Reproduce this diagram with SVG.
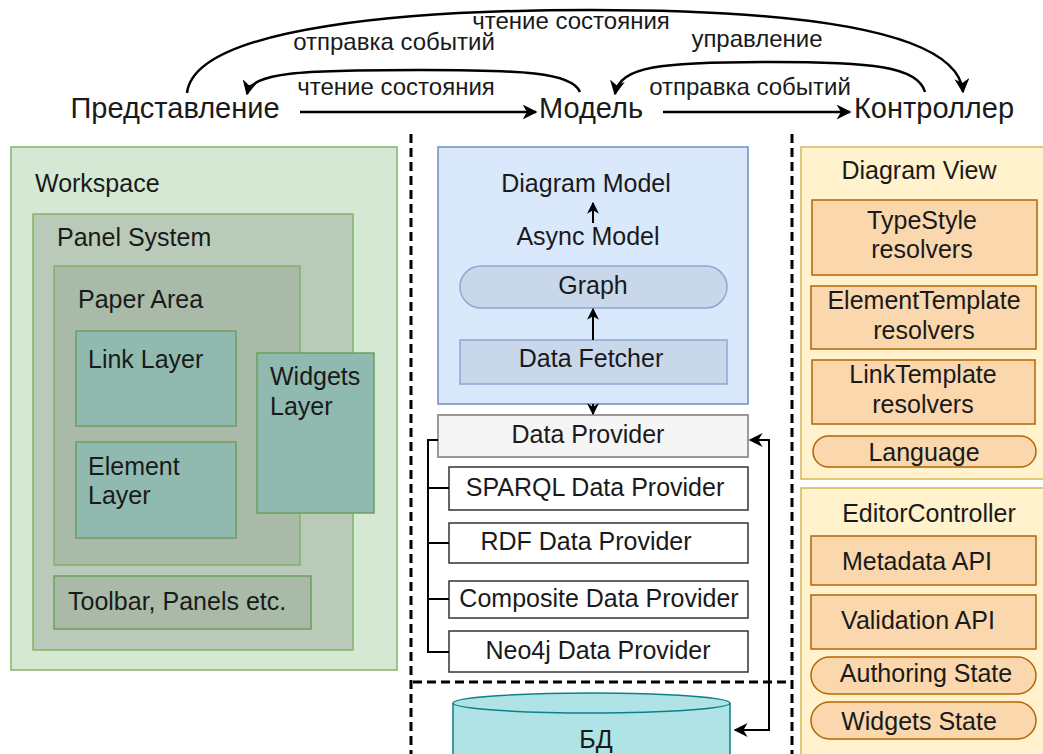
<svg xmlns="http://www.w3.org/2000/svg" width="1043" height="754" viewBox="0 0 1043 754">
<style>
text{font-family:"Liberation Sans",Arial,sans-serif;font-size:25px;fill:#1a1a1a}
.big{font-size:29px}
.lbl{font-size:24px}
.c{text-anchor:middle}
.ws{fill:#d5e8d4;stroke:#82b366;stroke-width:1.5}
.ps{fill:#b9cbb8;stroke:#82b366;stroke-width:1.5}
.pa{fill:#a9bba8;stroke:#82b366;stroke-width:1.5}
.ly{fill:#90bab0;stroke:#6d9e5e;stroke-width:1.5}
.blue{fill:#dae8fc;stroke:#6c8ebf;stroke-width:1.5}
.blue2{fill:#c9d7eb;stroke:#8ea8cf;stroke-width:1.5}
.gray{fill:#f5f5f5;stroke:#999;stroke-width:2}
.wh{fill:#fff;stroke:#333;stroke-width:1.5}
.yel{fill:#fff2cc;stroke:#d6b656;stroke-width:1.5}
.org{fill:#fad7ac;stroke:#b46504;stroke-width:1.5}
.dash{fill:none;stroke:#000;stroke-width:3;stroke-dasharray:9,5}
.ln{fill:none;stroke:#000;stroke-width:2.5}
.ln2{fill:none;stroke:#000;stroke-width:2}
</style>
<defs>
<marker id="ah" viewBox="0 0 10 10" refX="9" refY="5" markerWidth="6" markerHeight="6" orient="auto" markerUnits="strokeWidth">
<path d="M0,0 L10,5 L0,10 L3,5 z" fill="#000"/>
</marker>
<marker id="ahs" viewBox="0 0 10 10" refX="9" refY="5" markerWidth="7" markerHeight="7" orient="auto-start-reverse" markerUnits="strokeWidth">
<path d="M0,0 L10,5 L0,10 L3,5 z" fill="#000"/>
</marker>
</defs>
<rect width="1043" height="754" fill="#fff"/>

<!-- top MVC labels -->
<g id="view-label"><text class="big c" x="175" y="118">Представление</text></g>
<g id="model-label"><text class="big c" x="591" y="118">Модель</text></g>
<g id="controller-label"><text class="big c" x="934" y="118">Контроллер</text></g>

<!-- dashed separators -->
<g id="separators">
<path class="dash" d="M411,134 V754"/>
<path class="dash" d="M792,134 V754"/>
<path class="dash" d="M413,682 H792"/>
</g>

<!-- left: workspace -->
<g id="workspace"><rect class="ws" x="11" y="147" width="386" height="523"/><text x="35" y="192">Workspace</text></g>
<g id="panel-system"><rect class="ps" x="33" y="214" width="320" height="436"/><text x="57" y="246">Panel System</text></g>
<g id="paper-area"><rect class="pa" x="54" y="266" width="246" height="299"/><text x="78" y="308">Paper Area</text></g>
<g id="link-layer"><rect class="ly" x="76" y="331" width="160" height="95"/><text x="88" y="368">Link Layer</text></g>
<g id="element-layer"><rect class="ly" x="76" y="442" width="160" height="96"/><text x="88" y="475">Element</text><text x="88" y="504">Layer</text></g>
<g id="widgets-layer"><rect class="ly" x="257" y="353" width="117" height="160"/><text x="270" y="385">Widgets</text><text x="270" y="415">Layer</text></g>
<g id="toolbar"><rect class="ly" x="54" y="576" width="257" height="53" style="fill:#a9bba8"/><text x="68" y="610">Toolbar, Panels etc.</text></g>

<!-- middle: model -->
<g id="model-box"><rect class="blue" x="438" y="147" width="310" height="257"/></g>
<g id="diagram-model"><text class="c" x="586" y="192">Diagram Model</text></g>
<g id="async-model"><text class="c" x="588" y="245">Async Model</text></g>
<g id="graph"><rect class="blue2" x="460" y="266" width="267" height="42" rx="21"/><text class="c" x="593" y="294">Graph</text></g>
<g id="data-fetcher"><rect class="blue2" x="460" y="340" width="267" height="44"/><text class="c" x="591" y="367">Data Fetcher</text></g>
<g id="data-provider"><rect class="gray" x="438" y="415" width="310" height="42"/><text class="c" x="588" y="443">Data Provider</text></g>
<g id="sparql"><rect class="wh" x="449" y="467" width="299" height="43"/><text class="c" x="595" y="496">SPARQL Data Provider</text></g>
<g id="rdf"><rect class="wh" x="449" y="523" width="299" height="40"/><text class="c" x="586" y="550">RDF Data Provider</text></g>
<g id="composite"><rect class="wh" x="449" y="581" width="299" height="37"/><text class="c" x="599" y="607">Composite Data Provider</text></g>
<g id="neo4j"><rect class="wh" x="449" y="631" width="299" height="41"/><text class="c" x="598" y="659">Neo4j Data Provider</text></g>
<g id="db">
<path d="M453,703 V770 H730 V703" fill="#b0e3e6" stroke="#0e8088" stroke-width="1.5"/>
<ellipse cx="591.5" cy="703" rx="138.5" ry="10" fill="#b0e3e6" stroke="#0e8088" stroke-width="1.5"/>
<text class="c" x="596" y="748">БД</text>
</g>

<!-- right: view/controller -->
<g id="diagram-view"><rect class="yel" x="801" y="147" width="250" height="332"/><text class="c" x="919" y="179">Diagram View</text></g>
<g id="typestyle"><rect class="org" x="812" y="200" width="225" height="75"/><text class="c" x="922" y="229">TypeStyle</text><text class="c" x="922" y="258">resolvers</text></g>
<g id="elementtemplate"><rect class="org" x="811" y="286" width="225" height="63"/><text class="c" x="924" y="309">ElementTemplate</text><text class="c" x="924" y="339">resolvers</text></g>
<g id="linktemplate"><rect class="org" x="812" y="360" width="223" height="64"/><text class="c" x="923" y="383">LinkTemplate</text><text class="c" x="923" y="413">resolvers</text></g>
<g id="language"><rect class="org" x="813" y="436" width="223" height="31" rx="15.5"/><text class="c" x="924" y="461">Language</text></g>
<g id="editor-controller"><rect class="yel" x="801" y="488" width="250" height="280"/><text class="c" x="929" y="522">EditorController</text></g>
<g id="metadata-api"><rect class="org" x="811" y="536" width="225" height="49"/><text class="c" x="917" y="570">Metadata API</text></g>
<g id="validation-api"><rect class="org" x="811" y="595" width="225" height="54"/><text class="c" x="918" y="629">Validation API</text></g>
<g id="authoring-state"><rect class="org" x="811" y="657" width="225" height="37" rx="18.5"/><text class="c" x="926" y="682">Authoring State</text></g>
<g id="widgets-state"><rect class="org" x="811" y="702" width="225" height="37" rx="18.5"/><text class="c" x="919" y="730">Widgets State</text></g>

<g id="connectors">
<path class="ln" d="M300,112 L536,112" marker-end="url(#ah)"/>
<path class="ln" d="M663,112 L850,112" marker-end="url(#ah)"/>
<path class="ln" d="M187,93 C195,25 420,10 590,10 C800,10 958,30 963,92" marker-end="url(#ah)"/>
<path class="ln" d="M580,92 C572,72 520,70 420,70 C300,70 252,72 247,94" marker-end="url(#ah)"/>
<path class="ln" d="M925,92 C918,66 870,62 770,62 C660,62 620,66 615,94" marker-end="url(#ah)"/>
<path class="ln2" d="M593,223 L593,203" marker-end="url(#ah)"/>
<path class="ln2" d="M593,340 L593,309" marker-end="url(#ah)"/>
<path class="ln2" d="M593,404 L593,414" marker-end="url(#ah)"/>
<path class="ln2" d="M438,440 H428 V652 H449 M428,488 H449 M428,543 H449 M428,599 H449"/>
<path class="ln2" d="M735,730 H769 V440 H750" marker-start="url(#ahs)" marker-end="url(#ahs)"/>
<text class="lbl c" x="571" y="29">чтение состояния</text>
<text class="lbl c" x="394" y="50">отправка событий</text>
<text class="lbl c" x="757" y="47">управление</text>
<text class="lbl c" x="396" y="95">чтение состояния</text>
<text class="lbl c" x="750" y="95">отправка событий</text>
</g>
</svg>
